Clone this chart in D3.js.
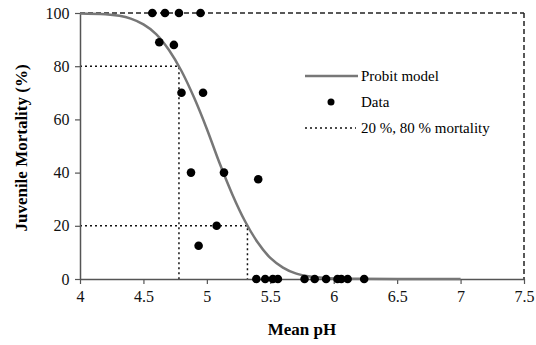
<!DOCTYPE html>
<html><head><meta charset="utf-8">
<script src="https://cdn.jsdelivr.net/npm/d3@7"></script>
<style>body{margin:0;background:#fff}svg{display:block}svg text{font-family:"Liberation Serif","Times New Roman",Tinos,"DejaVu Serif",serif !important}</style>
</head><body>
<svg id="c" width="536" height="345"></svg>
<script>
// Observed data (pH, % mortality)
const dataPH = [4.57,4.67,4.78,4.95,4.625,4.74,4.80,4.97,4.875,5.135,5.405,5.077,4.935,
  5.39,5.46,5.52,5.56,5.77,5.85,5.94,6.03,6.06,6.11,6.24];
const dataMort = [100,100,100,100,89,88,70,70,40,40,37.5,20,12.5,
  0,0,0,0,0,0,0,0,0,0,0];
// Probit model curve
const curvePH = [4.0,4.2,4.4,4.5,4.6,4.7,4.8,4.9,5.0,5.1,5.2,5.3,5.4,5.5,5.6,5.7,5.8,6.0,6.2,6.5,7.0];
const curveMort = [99.8,99.5,97.9,95.7,92.1,86.2,78.2,68.1,56.4,43.6,31.9,21.8,13.8,7.9,4.3,2.1,1.0,0.2,0.05,0,0];
// 20 % / 80 % mortality reference pH
const refPH = [5.32,4.78];
const refMort = [20,80];
const xTicks = [4,4.5,5,5.5,6,6.5,7,7.5];
const yTicks = [0,20,40,60,80,100];

const svg = d3.select("#c");
const x = d3.scaleLinear().domain([4,7.5]).range([80,524]);
const y = d3.scaleLinear().domain([0,100]).range([279,13]);

// frame dashed top and right
svg.append("line").attr("x1",x(4)).attr("x2",x(7.5)).attr("y1",y(100)).attr("y2",y(100))
  .attr("stroke","#222").attr("stroke-width",1.5).attr("stroke-dasharray","5,3");
svg.append("line").attr("x1",x(7.5)).attr("x2",x(7.5)).attr("y1",y(100)).attr("y2",y(0))
  .attr("stroke","#222").attr("stroke-width",1.5).attr("stroke-dasharray","5,3");

// reference dotted lines
refPH.forEach((p,i)=>{
  svg.append("path").attr("d",`M${x(4)},${y(refMort[i])}H${x(p)}V${y(0)}`)
    .attr("fill","none").attr("stroke","#111").attr("stroke-width",1.5).attr("stroke-dasharray","2,3");
});

// axes
const xa = svg.append("g").attr("transform",`translate(0,${y(0)})`)
  .call(d3.axisBottom(x).tickValues(xTicks).tickSize(5).tickSizeOuter(0).tickFormat(d3.format("")));
const ya = svg.append("g").attr("transform",`translate(${x(4)},0)`)
  .call(d3.axisLeft(y).tickValues(yTicks).tickSize(5).tickSizeOuter(0));
[xa,ya].forEach(a=>{
  a.attr("font-family",null);
  a.select(".domain").attr("stroke","#555").attr("stroke-width",1.5);
  a.selectAll(".tick line").attr("stroke","#555").attr("stroke-width",1.2);
  a.selectAll("text").attr("font-size",16).attr("fill","#111");
});
xa.selectAll("text").attr("dy","0.95em");
ya.selectAll("text").attr("dx","-0.15em");

// curve
const line = d3.line().x((d,i)=>x(curvePH[i])).y((d,i)=>y(curveMort[i])).curve(d3.curveMonotoneX);
svg.append("path").attr("d",line(curvePH)).attr("fill","none").attr("stroke","#777").attr("stroke-width",2.5);

// data points
svg.selectAll("circle.pt").data(dataPH).enter().append("circle").attr("class","pt")
  .attr("cx",d=>x(d)).attr("cy",(d,i)=>y(dataMort[i])).attr("r",4.3).attr("fill","#000");

// axis titles
svg.append("text").attr("x",302).attr("y",335).attr("text-anchor","middle")
  .attr("font-size",17).attr("font-weight","bold").text("Mean pH");
svg.append("text").attr("transform","translate(27,148) rotate(-90)").attr("text-anchor","middle")
  .attr("font-size",17).attr("font-weight","bold").text("Juvenile Mortality (%)");

// legend
const lg = svg.append("g").attr("font-size",15);
lg.append("line").attr("x1",305).attr("x2",358).attr("y1",76).attr("y2",76).attr("stroke","#777").attr("stroke-width",2.5);
lg.append("text").attr("x",361).attr("y",81).text("Probit model");
lg.append("circle").attr("cx",331).attr("cy",102).attr("r",3.5).attr("fill","#000");
lg.append("text").attr("x",361).attr("y",107).text("Data");
lg.append("line").attr("x1",305).attr("x2",356).attr("y1",128).attr("y2",128).attr("stroke","#111").attr("stroke-width",1.5).attr("stroke-dasharray","2,3");
lg.append("text").attr("x",361).attr("y",133).text("20 %, 80 % mortality");
</script>
</body></html>
